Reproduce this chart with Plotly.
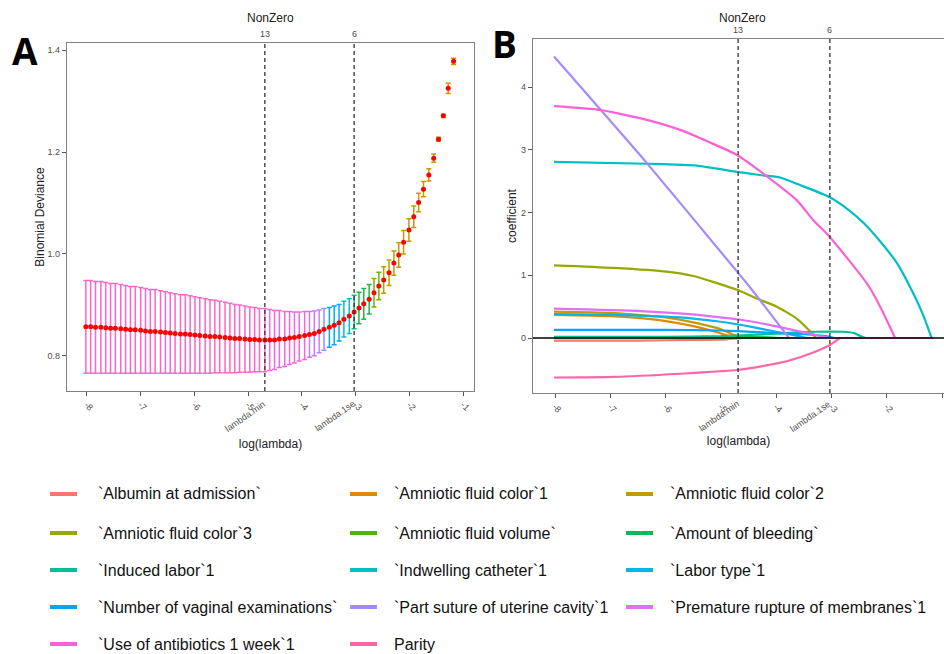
import plotly.graph_objects as go

# ---------------- data: panel A (cross-validation curve) ----------------
log_lambda = [-8.02, -7.93, -7.84, -7.74, -7.65, -7.56, -7.47, -7.37, -7.28, -7.19,
              -7.10, -7.00, -6.91, -6.82, -6.73, -6.63, -6.54, -6.45, -6.36, -6.26,
              -6.17, -6.08, -5.99, -5.90, -5.80, -5.71, -5.62, -5.53, -5.43, -5.34,
              -5.25, -5.16, -5.06, -4.97, -4.88, -4.79, -4.69, -4.60, -4.51, -4.42,
              -4.32, -4.23, -4.14, -4.05, -3.95, -3.86, -3.77, -3.68, -3.59, -3.49,
              -3.40, -3.31, -3.22, -3.12, -3.03, -2.94, -2.85, -2.75, -2.66, -2.57,
              -2.48, -2.38, -2.29, -2.20, -2.11, -2.01, -1.92, -1.83, -1.74, -1.64,
              -1.55, -1.46, -1.37, -1.28, -1.18]
cv_mean = [0.857, 0.857, 0.856, 0.856, 0.855, 0.854, 0.854, 0.853, 0.852, 0.851,
           0.851, 0.850, 0.849, 0.848, 0.848, 0.847, 0.846, 0.845, 0.844, 0.843,
           0.843, 0.842, 0.841, 0.840, 0.839, 0.838, 0.838, 0.837, 0.836, 0.835,
           0.834, 0.834, 0.833, 0.832, 0.832, 0.831, 0.831, 0.831, 0.831, 0.833,
           0.833, 0.835, 0.836, 0.838, 0.840, 0.842, 0.844, 0.848, 0.852, 0.856,
           0.860, 0.865, 0.872, 0.878, 0.886, 0.894, 0.902, 0.911, 0.924, 0.937,
           0.949, 0.963, 0.982, 0.998, 1.023, 1.047, 1.073, 1.101, 1.127, 1.155,
           1.188, 1.225, 1.271, 1.325, 1.378]
cv_se = [0.091, 0.091, 0.090, 0.090, 0.089, 0.088, 0.088, 0.087, 0.086, 0.085,
         0.085, 0.084, 0.083, 0.082, 0.082, 0.081, 0.080, 0.079, 0.078, 0.077,
         0.077, 0.076, 0.075, 0.074, 0.073, 0.072, 0.071, 0.070, 0.069, 0.068,
         0.067, 0.066, 0.065, 0.064, 0.063, 0.062, 0.062, 0.060, 0.058, 0.056,
         0.054, 0.052, 0.050, 0.048, 0.047, 0.045, 0.044, 0.042, 0.041, 0.039,
         0.038, 0.036, 0.035, 0.034, 0.033, 0.031, 0.030, 0.029, 0.028, 0.027,
         0.026, 0.025, 0.024, 0.024, 0.023, 0.022, 0.021, 0.018, 0.015, 0.012,
         0.008, 0.004, 0.003, 0.010, 0.006]
lambda_min_idx = 36
lambda_1se_idx = 54
nonzero_labels = ["13", "6"]
x_ticks = [-8, -7, -6, -5, -4, -3, -2, -1]
x_tick_text = ["-8", "-7", "-6", "-5", "-4", "-3", "-2", "-1"]

# ---------------- data: panel B (coefficient paths) ----------------
series_names = ["`Albumin at admission`", "`Amniotic fluid color`1", "`Amniotic fluid color`2",
                "`Amniotic fluid color`3", "`Amniotic fluid volume`", "`Amount of bleeding`",
                "`Induced labor`1", "`Indwelling catheter`1", "`Labor type`1",
                "`Number of vaginal examinations`", "`Part suture of uterine cavity`1",
                "`Premature rupture of membranes`1", "`Use of antibiotics 1 week`1", "Parity"]
series_colors = ["#F8766D", "#E38900", "#C49A00", "#99A800", "#53B400", "#00BC56", "#00C094",
                 "#00BFC4", "#00B6EB", "#06A4FF", "#A58AFF", "#DF70F8", "#FB61D7", "#FF66A8"]

albumin_x = [-8.02, -6.5, -5.5, -4.9, -4.6, -1.18]
albumin_y = [-0.04, -0.04, -0.03, -0.02, 0.0, 0.0]
afc1_x = [-8.02, -7.0, -6.5, -6.0, -5.5, -5.1, -4.85, -4.75, -1.18]
afc1_y = [0.37, 0.35, 0.32, 0.27, 0.19, 0.10, 0.03, 0.0, 0.0]
afc2_x = [-8.02, -7.0, -6.5, -6.0, -5.5, -5.0, -4.8, -4.6, -1.18]
afc2_y = [0.42, 0.40, 0.37, 0.33, 0.25, 0.14, 0.06, 0.0, 0.0]
afc3_x = [-8.02, -6.95, -5.98, -5.5, -4.71, -4.35, -3.99, -3.63, -3.36, -3.28, -1.18]
afc3_y = [1.16, 1.12, 1.06, 0.99, 0.77, 0.63, 0.50, 0.31, 0.08, 0.0, 0.0]
afvol_x = [-8.02, -6.0, -5.0, -4.4, -4.0, -1.18]
afvol_y = [0.01, 0.01, 0.01, 0.01, 0.0, 0.0]
bleed_x = [-8.02, -6.0, -5.0, -4.2, -3.9, -1.18]
bleed_y = [0.005, 0.005, 0.01, 0.01, 0.0, 0.0]
induced_x = [-8.02, -6.0, -5.0, -4.71, -4.2, -3.6, -3.3, -2.8, -2.6, -2.45, -2.38, -1.18]
induced_y = [0.02, 0.02, 0.03, 0.04, 0.06, 0.09, 0.10, 0.10, 0.08, 0.02, 0.0, 0.0]
catheter_x = [-8.02, -6.34, -5.44, -4.71, -4.3, -3.93, -3.57, -3.04, -2.7, -2.4, -2.1, -1.82, -1.52, -1.35, -1.19]
catheter_y = [2.81, 2.78, 2.75, 2.65, 2.60, 2.56, 2.44, 2.25, 2.05, 1.82, 1.52, 1.20, 0.71, 0.38, 0.0]
labor_x = [-8.02, -7.0, -6.0, -5.5, -5.0, -4.71, -4.4, -4.0, -3.7, -3.45, -1.18]
labor_y = [0.38, 0.37, 0.34, 0.31, 0.26, 0.22, 0.17, 0.10, 0.05, 0.0, 0.0]
vaginal_x = [-8.02, -6.0, -5.0, -4.71, -4.0, -3.5, -3.1, -2.95, -1.18]
vaginal_y = [0.13, 0.13, 0.12, 0.11, 0.08, 0.06, 0.03, 0.0, 0.0]
suture_x = [-8.02, -6.34, -4.71, -4.44, -3.77, -1.18]
suture_y = [4.49, 2.79, 1.06, 0.77, 0.0, 0.0]
prom_x = [-8.02, -6.46, -5.56, -5.02, -4.71, -4.42, -3.81, -3.39, -3.05, -1.18]
prom_y = [0.47, 0.43, 0.38, 0.33, 0.30, 0.26, 0.15, 0.07, 0.0, 0.0]
antibio_x = [-8.02, -7.19, -6.34, -5.74, -5.2, -4.71, -4.2, -3.63, -3.33, -3.04, -2.36, -2.12, -1.85, -1.18]
antibio_y = [3.70, 3.64, 3.48, 3.32, 3.12, 2.92, 2.60, 2.20, 1.88, 1.62, 0.87, 0.50, 0.0, 0.0]
parity_x = [-8.02, -6.95, -5.74, -5.02, -4.71, -4.2, -3.81, -3.33, -3.03, -2.85, -1.18]
parity_y = [-0.63, -0.62, -0.57, -0.53, -0.51, -0.44, -0.37, -0.23, -0.11, 0.0, 0.0]

paths_x = [albumin_x, afc1_x, afc2_x, afc3_x, afvol_x, bleed_x, induced_x, catheter_x,
           labor_x, vaginal_x, suture_x, prom_x, antibio_x, parity_x]
paths_y = [albumin_y, afc1_y, afc2_y, afc3_y, afvol_y, bleed_y, induced_y, catheter_y,
           labor_y, vaginal_y, suture_y, prom_y, antibio_y, parity_y]

# ---------------- layout helpers ----------------
W, H = 944, 654
def px(x):
    return x / W
def py(y):
    return 1 - y / H

FONT = "Liberation Sans, Arial, sans-serif"
lmin = log_lambda[lambda_min_idx]
l1se = log_lambda[lambda_1se_idx]

# colour groups for the error bars (start index, colour)
bar_groups = [(0, "#FB66C8"), (37, "#F564E3"), (45, "#C77CFF"), (48, "#8F91FF"),
              (49, "#00A9FF"), (52, "#00BFC4"), (54, "#00C08B"), (55, "#1CB841"),
              (58, "#7CAE00"), (60, "#C49A00"), (73, "#DE8C00")]

fig = go.Figure()

for g, (start, col) in enumerate(bar_groups):
    end = bar_groups[g + 1][0] if g + 1 < len(bar_groups) else len(log_lambda)
    idx = list(range(start, end))
    fig.add_trace(go.Scatter(
        x=[log_lambda[i] for i in idx], y=[cv_mean[i] for i in idx],
        mode="markers", marker=dict(size=1, color="rgba(0,0,0,0)"),
        error_y=dict(type="data", array=[cv_se[i] for i in idx], color=col,
                     thickness=1.5, width=2.5),
        xaxis="x", yaxis="y", showlegend=False, hoverinfo="skip"))

fig.add_trace(go.Scatter(x=log_lambda, y=cv_mean, mode="markers",
                         marker=dict(size=5, color="#FF0000"),
                         xaxis="x", yaxis="y", showlegend=False))

# coefficient paths: smooth part until the coefficient reaches zero, straight zero tail after
for name, col, xs, ys in zip(series_names, series_colors, paths_x, paths_y):
    k = len(ys) - 1
    while k > 0 and ys[k - 1] == 0:
        k -= 1
    fig.add_trace(go.Scatter(x=xs[:k + 1], y=ys[:k + 1], mode="lines", name=name,
                             line=dict(color=col, width=2.2, shape="spline", smoothing=0.55),
                             xaxis="x2", yaxis="y2", showlegend=False))
    if k < len(ys) - 1:
        fig.add_trace(go.Scatter(x=xs[k:], y=ys[k:], mode="lines", name=name,
                                 line=dict(color=col, width=2.2),
                                 xaxis="x2", yaxis="y2", showlegend=False))

axis_common = dict(showgrid=False, zeroline=False, showline=True, linecolor="#808080",
                   linewidth=1.3, ticks="outside", ticklen=4, tickcolor="#555555",
                   tickfont=dict(family=FONT, size=9, color="#4D4D4D"))
title_font = dict(family=FONT, size=12, color="#222")

fig.update_layout(
    width=W, height=H, margin=dict(l=0, r=0, t=0, b=0),
    paper_bgcolor="white", plot_bgcolor="white", showlegend=False,
    font=dict(family=FONT),
    xaxis=dict(domain=[px(67), px(474)], range=[-8.37, -0.80], anchor="y",
               tickvals=x_ticks, ticktext=x_tick_text, tickangle=45, mirror=True,
               title=dict(text="log(lambda)", font=title_font, standoff=27),
               automargin=False, **axis_common),
    yaxis=dict(domain=[py(391), py(43)], range=[0.731, 1.414], anchor="x",
               tickvals=[0.8, 1.0, 1.2, 1.4], ticktext=["0.8", "1.0", "1.2", "1.4"],
               mirror=True,
               title=dict(text="Binomial Deviance", font=title_font, standoff=0),
               automargin=False, **axis_common),
    xaxis2=dict(domain=[px(533), 1.0], range=[-8.40, -0.966], anchor="y2",
                tickvals=x_ticks, ticktext=x_tick_text, tickangle=45, mirror=True,
                title=dict(text="log(lambda)", font=title_font, standoff=22),
                automargin=False, **axis_common),
    yaxis2=dict(domain=[py(393), py(39)], range=[-0.877, 4.77], anchor="x2",
                tickvals=[0, 1, 2, 3, 4], ticktext=["0", "1", "2", "3", "4"],
                title=dict(text="coefficient", font=title_font, standoff=1),
                automargin=False, **axis_common),
)

shapes = []
for xr in ["x", "x2"]:
    for v in [lmin, l1se]:
        shapes.append(dict(type="line", xref=xr, yref=("y domain" if xr == "x" else "y2 domain"),
                           x0=v, x1=v, y0=0, y1=1,
                           line=dict(color="#333333", width=1.3, dash="4px,3px")))
shapes.append(dict(type="line", xref="x2 domain", yref="y2", x0=0, x1=1, y0=0, y1=0,
                   line=dict(color="#000000", width=1.3)))

annotations = []
# panel letters
annotations.append(dict(text="<b>A</b>", x=px(25), y=py(51), xref="paper", yref="paper",
                        xanchor="center", yanchor="middle", showarrow=False,
                        font=dict(family="Open Sans, sans-serif", size=37, color="black")))
annotations.append(dict(text="<b>B</b>", x=px(504), y=py(43), xref="paper", yref="paper",
                        xanchor="center", yanchor="middle", showarrow=False,
                        font=dict(family="Open Sans, sans-serif", size=37, color="black")))
# top NonZero axis
for xr, ytop, centre in [("x", 43, 270), ("x2", 39, 742)]:
    annotations.append(dict(text="NonZero", x=px(centre), y=py(18), xref="paper", yref="paper",
                            xanchor="center", yanchor="middle", showarrow=False,
                            font=dict(family=FONT, size=12, color="#222")))
    for v, lab in zip([lmin, l1se], nonzero_labels):
        annotations.append(dict(text=lab, x=v, y=py(ytop - 2), xref=xr, yref="paper",
                                xanchor="center", yanchor="bottom", showarrow=False,
                                font=dict(family=FONT, size=9, color="#4D4D4D")))
    for v, lab in zip([lmin, l1se], ["lambda.min", "lambda.1se"]):
        annotations.append(dict(text=lab, x=v, y=py(396), xref=xr, yref="paper",
                                xanchor="right", yanchor="top", xshift=6, textangle=-35,
                                showarrow=False, font=dict(family=FONT, size=9, color="#4D4D4D")))

# manual legend (3 columns, filled by row)
row_y = [494, 533, 570, 607, 644]
key_x = [50, 350, 626]
text_x = [96, 392, 668]
for i, (name, col) in enumerate(zip(series_names, series_colors)):
    r, c = divmod(i, 3)
    shapes.append(dict(type="line", xref="paper", yref="paper",
                       x0=px(key_x[c]), x1=px(key_x[c] + 27), y0=py(row_y[r]), y1=py(row_y[r]),
                       line=dict(color=col, width=4)))
    annotations.append(dict(text=name, x=px(text_x[c]), y=py(row_y[r]), xref="paper", yref="paper",
                            xanchor="left", yanchor="middle", showarrow=False,
                            font=dict(family=FONT, size=16, color="#111")))

fig.update_layout(shapes=shapes, annotations=annotations)
fig.write_html("out.html")
